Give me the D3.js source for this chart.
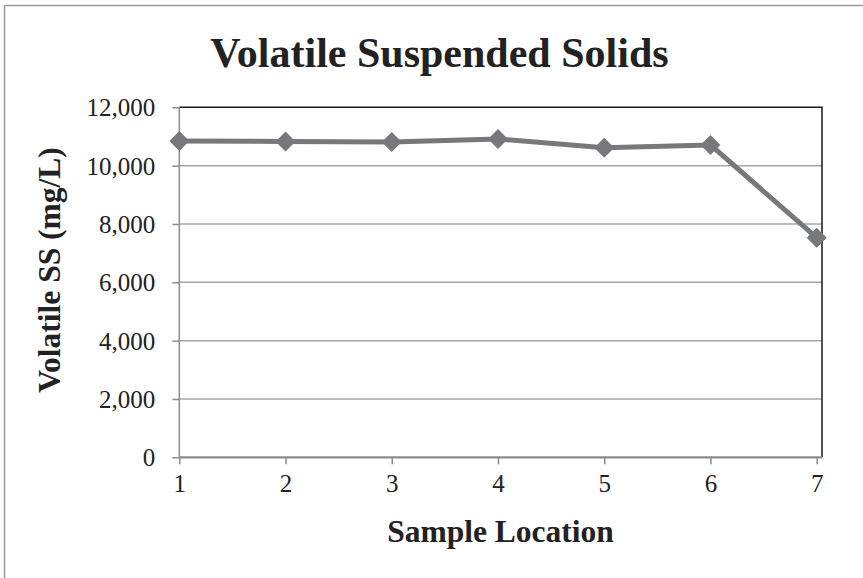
<!DOCTYPE html>
<html>
<head>
<meta charset="utf-8">
<script src="https://cdn.jsdelivr.net/npm/d3@7"></script>
<style>
  html, body { margin: 0; padding: 0; background: #fff; }
  svg { display: block; font-family: "Liberation Serif", "Times New Roman", serif; }
</style>
</head>
<body>
<svg id="chart" width="863" height="578"></svg>
<script>
// Volatile suspended solids at each sample location (mg/L)
const locations = [1, 2, 3, 4, 5, 6, 7];
const vssValues = [10845, 10830, 10810, 10913, 10615, 10708, 7530];
const yTicks = [0, 2000, 4000, 6000, 8000, 10000, 12000];
const chartTitle = "Volatile Suspended Solids";
const xTitle = "Sample Location";
const yTitle = "Volatile SS (mg/L)";

const svg = d3.select("#chart");
const W = 863, H = 578;

// plot frame
const plot = { left: 179.3, right: 822, top: 107.3, bottom: 457.3 };

const x = d3.scaleLinear().domain([1, 7]).range([179.3, 816.7]);
const y = d3.scaleLinear().domain([0, 12000]).range([plot.bottom, plot.top]);

svg.append("rect").attr("width", W).attr("height", H).attr("fill", "#fff");

// outer chart border (top and left edges visible)
svg.append("line").attr("x1", 4.5).attr("x2", W).attr("y1", 5.5).attr("y2", 5.5)
  .attr("stroke", "#9a9a9a").attr("stroke-width", 1.5);
svg.append("line").attr("x1", 4.5).attr("x2", 4.5).attr("y1", 5.5).attr("y2", H)
  .attr("stroke", "#9a9a9a").attr("stroke-width", 1.5);

// horizontal gridlines
svg.append("g").selectAll("line")
  .data(yTicks.filter(d => d > 0 && d < 12000))
  .join("line")
  .attr("x1", plot.left).attr("x2", plot.right)
  .attr("y1", d => y(d)).attr("y2", d => y(d))
  .attr("stroke", "#a8a8a8").attr("stroke-width", 1.5);

// top and right frame edges
svg.append("path")
  .attr("d", `M${plot.left},${plot.top}H${plot.right}V${plot.bottom}`)
  .attr("fill", "none").attr("stroke", "#1a1a1a").attr("stroke-width", 1.5);

// y axis
const yAxis = svg.append("g")
  .attr("transform", `translate(${plot.left},0)`)
  .call(d3.axisLeft(y).tickValues(yTicks).tickSize(7).tickPadding(17)
    .tickFormat(d3.format(",")));
yAxis.select(".domain").attr("stroke", "#8c8c8c").attr("stroke-width", 1.5)
  .attr("d", `M0,${plot.top}V${plot.bottom}`);
yAxis.selectAll(".tick line").attr("stroke", "#8c8c8c").attr("stroke-width", 1.5);
yAxis.selectAll(".tick text")
  .attr("font-size", 25).attr("fill", "#222").attr("dy", "0.34em")
  .style("font-family", "'Liberation Serif', serif");

// x axis
const xAxis = svg.append("g")
  .attr("transform", `translate(0,${plot.bottom})`)
  .call(d3.axisBottom(x).tickValues(locations).tickSize(7).tickPadding(10)
    .tickFormat(d3.format("d")));
xAxis.select(".domain").attr("stroke", "#8c8c8c").attr("stroke-width", 2.2)
  .attr("d", `M${plot.left},0H${plot.right}`);
xAxis.selectAll(".tick line").attr("stroke", "#8c8c8c").attr("stroke-width", 1.5);
xAxis.selectAll(".tick text")
  .attr("font-size", 25).attr("fill", "#222").attr("dy", "0.71em")
  .style("font-family", "'Liberation Serif', serif");

// data line
const pts = locations.map((loc, i) => ({ loc, v: vssValues[i] }));
svg.append("path")
  .datum(pts)
  .attr("fill", "none")
  .attr("stroke", "#77787b")
  .attr("stroke-width", 5)
  .attr("stroke-linejoin", "round")
  .attr("d", d3.line().x(d => x(d.loc)).y(d => y(d.v)));

// diamond markers
const r = 10;
svg.append("g").selectAll("path")
  .data(pts)
  .join("path")
  .attr("transform", d => `translate(${x(d.loc)},${y(d.v)})`)
  .attr("d", `M0,${-r}L${r},0L0,${r}L${-r},0Z`)
  .attr("fill", "#77787b");

// titles
svg.append("text")
  .attr("x", 439.5).attr("y", 67)
  .attr("text-anchor", "middle")
  .attr("font-size", 42).attr("font-weight", "bold").attr("fill", "#222")
  .text(chartTitle);

svg.append("text")
  .attr("x", 500.5).attr("y", 542)
  .attr("text-anchor", "middle")
  .attr("font-size", 31.5).attr("font-weight", "bold").attr("fill", "#222")
  .text(xTitle);

svg.append("text")
  .attr("transform", "translate(60,270) rotate(-90)")
  .attr("text-anchor", "middle")
  .attr("font-size", 31.5).attr("font-weight", "bold").attr("fill", "#222")
  .text(yTitle);
</script>
</body>
</html>
